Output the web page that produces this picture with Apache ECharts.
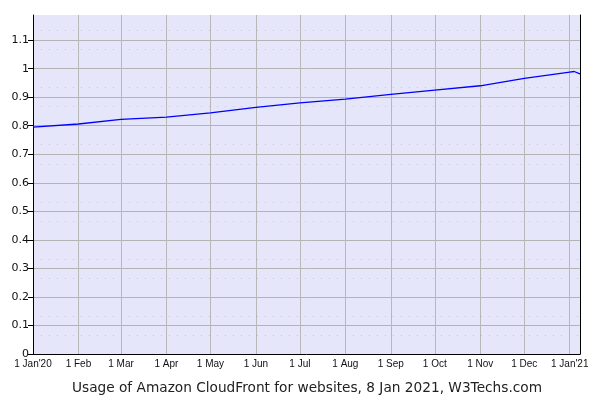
<!DOCTYPE html>
<html>
<head>
<meta charset="utf-8">
<script src="https://cdn.jsdelivr.net/npm/echarts@6/dist/echarts.min.js"></script>
<style>html,body{margin:0;padding:0;background:#fff}#c{width:600px;height:400px}</style>
</head>
<body>
<div id="c"></div>
<script>
// Data
var dates = ['2020-01-01','2020-02-01','2020-03-01','2020-04-01','2020-05-01','2020-06-01','2020-07-01','2020-08-01','2020-09-01','2020-10-01','2020-11-01','2020-12-01','2021-01-01','2021-01-04','2021-01-08'];
var usage = [0.795,0.806,0.822,0.830,0.845,0.864,0.880,0.893,0.910,0.925,0.940,0.966,0.988,0.990,0.982];
var xTickDates = ['2020-01-01','2020-02-01','2020-03-01','2020-04-01','2020-05-01','2020-06-01','2020-07-01','2020-08-01','2020-09-01','2020-10-01','2020-11-01','2020-12-01','2021-01-01'];
var xTickLabels = ["1 Jan'20","1 Feb","1 Mar","1 Apr","1 May","1 Jun","1 Jul","1 Aug","1 Sep","1 Oct","1 Nov","1 Dec","1 Jan'21"];
var yTicks = [0,0.1,0.2,0.3,0.4,0.5,0.6,0.7,0.8,0.9,1,1.1];
var xStart = '2020-01-01', xEnd = '2021-01-08';
var yMax = 1.188;
var title = 'Usage of Amazon CloudFront for websites, 8 Jan 2021, W3Techs.com';

// days since xStart
function day(s){var p=s.split('-');return Math.round((Date.UTC(+p[0],+p[1]-1,+p[2]) - Date.UTC(2020,0,1))/86400000);}
var xTickVals = xTickDates.map(day);
var seriesData = dates.map(function(d,i){return [day(d), usage[i]];});

var chart = echarts.init(document.getElementById('c'), null, {renderer:'canvas'});
chart.setOption({
  animation:false,
  title:{text:title, left:67, top:376, textStyle:{fontFamily:'DejaVu Sans', fontSize:13.7, fontWeight:'normal', color:'#222'}},
  grid:{left:33, right:20, top:15, bottom:46, show:true, backgroundColor:'#e6e6fa', borderWidth:0},
  xAxis:{
    type:'value', min:day(xStart), max:day(xEnd),
    axisLine:{show:true, lineStyle:{color:'#000', width:1}},
    axisTick:{show:false, customValues:xTickVals},
    axisLabel:{customValues:xTickVals, fontFamily:'Liberation Sans', fontSize:10, color:'#111', margin:5,
      formatter:function(v){var i=xTickVals.indexOf(v);return i>=0?xTickLabels[i]:'';}},
    splitLine:{show:true, lineStyle:{color:'#b8b8b8', width:1}}
  },
  yAxis:[{
    type:'value', min:0, max:yMax,
    axisLine:{show:true, lineStyle:{color:'#000', width:1}},
    axisTick:{show:true, length:5, customValues:yTicks, lineStyle:{color:'#000'}},
    axisLabel:{customValues:yTicks, fontFamily:'DejaVu Sans', fontSize:11, color:'#111', margin:4},
    splitLine:{show:true, lineStyle:{color:'#b4b4b4', width:1}},
    minorTick:{show:false, splitNumber:3},
    minorSplitLine:{show:true, lineStyle:{color:'#c4c4ec', width:1, type:[1,7]}}
  },{
    type:'value', min:0, max:yMax, position:'right',
    axisLine:{show:true, lineStyle:{color:'#000', width:1}},
    axisTick:{show:false}, axisLabel:{show:false}, splitLine:{show:false}
  }],
  series:[{
    type:'line', data:seriesData, showSymbol:false, symbol:'none',
    lineStyle:{color:'#0000ff', width:1.3}
  }]
});
</script>
</body>
</html>
